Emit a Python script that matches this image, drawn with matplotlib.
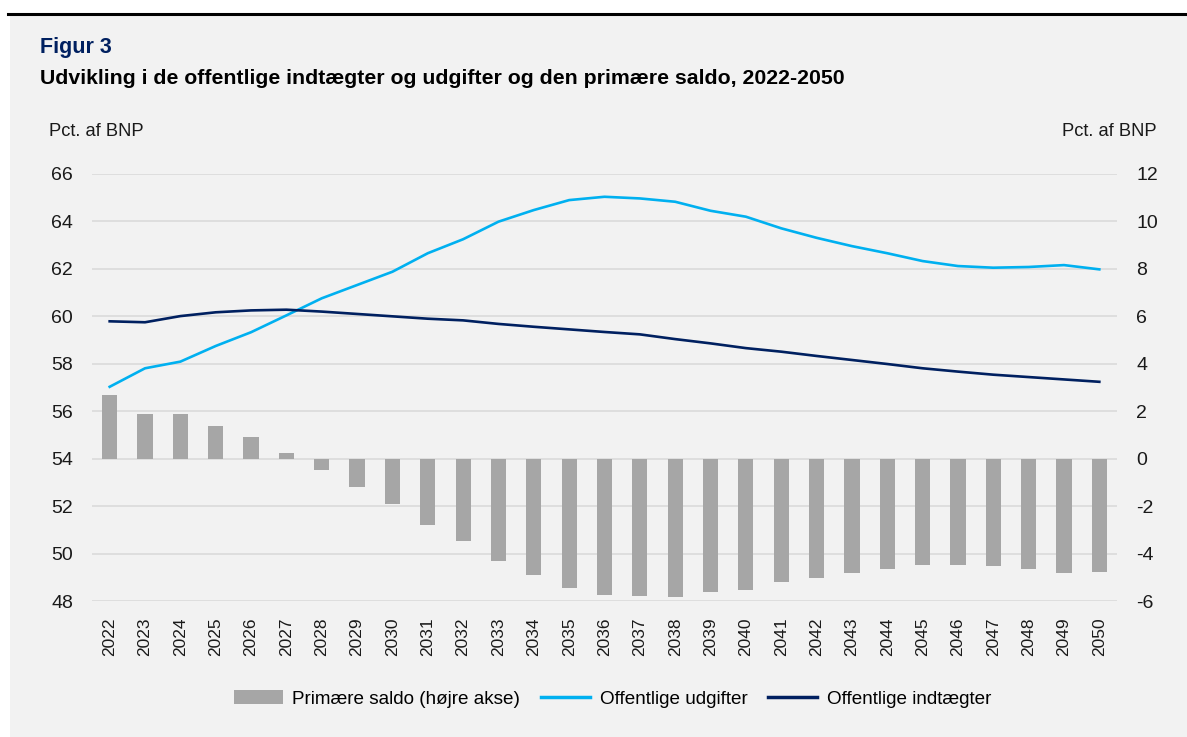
import matplotlib.pyplot as plt
from matplotlib.patches import Rectangle, Patch
from matplotlib.lines import Line2D

years = [str(y) for y in range(2022, 2051)]

# Primær saldo, pct. af BNP (højre akse)
saldo = [2.70, 1.90, 1.87, 1.36, 0.91, 0.25, -0.49, -1.19, -1.91, -2.78,
         -3.47, -4.30, -4.89, -5.44, -5.73, -5.79, -5.82, -5.61, -5.54, -5.21,
         -5.02, -4.82, -4.65, -4.50, -4.47, -4.52, -4.64, -4.82, -4.76]

# Offentlige udgifter, pct. af BNP
udgifter = [57.03, 57.81, 58.09, 58.75, 59.33, 60.04, 60.76, 61.32, 61.88, 62.66,
            63.25, 63.99, 64.48, 64.90, 65.04, 64.97, 64.83, 64.45, 64.20, 63.71,
            63.31, 62.96, 62.66, 62.33, 62.12, 62.05, 62.08, 62.16, 61.98]

# Offentlige indtægter, pct. af BNP
indtaegter = [59.79, 59.75, 60.01, 60.17, 60.25, 60.28, 60.20, 60.10, 60.00, 59.90,
              59.83, 59.68, 59.56, 59.45, 59.34, 59.24, 59.04, 58.86, 58.66, 58.51,
              58.33, 58.16, 57.99, 57.81, 57.67, 57.54, 57.44, 57.34, 57.24]

left_ticks = [48, 50, 52, 54, 56, 58, 60, 62, 64, 66]
right_ticks = [-6, -4, -2, 0, 2, 4, 6, 8, 10, 12]

BG = "#f2f2f2"
GRID = "#d9d9d9"
BAR = "#a6a6a6"
LIGHT = "#00b0f0"
NAVY = "#002060"

plt.rcParams["font.family"] = ["Liberation Sans", "DejaVu Sans"]


def main():
    fig = plt.figure(figsize=(11.87, 7.37), dpi=100, facecolor="white")
    W, H = 1187, 737

    # grey panel and the black rule on top
    fig.patches.append(Rectangle((10 / W, 0), 1, 1 - 15 / H, transform=fig.transFigure,
                                 facecolor=BG, edgecolor="none", zorder=-5))
    fig.add_artist(Line2D([8 / W, 1], [1 - 14 / H, 1 - 14 / H], color="black", lw=2.2))

    fig.text(40 / W, 1 - 47 / H, "Figur 3", color=NAVY, fontsize=15.5,
             fontweight="bold", va="center")
    fig.text(40 / W, 1 - 78 / H,
             "Udvikling i de offentlige indtægter og udgifter og den primære saldo, 2022-2050",
             color="black", fontsize=15.3, fontweight="bold", va="center")

    left, right = 92 / W, 1117 / W
    bottom, top = 1 - 601 / H, 1 - 174 / H
    ax2 = fig.add_axes([left, bottom, right - left, top - bottom])
    ax = ax2.twinx()
    ax2.yaxis.tick_right()
    ax.yaxis.tick_left()

    # bars on the right axis, drawn underneath
    ax2.bar(years, saldo, width=0.43, color=BAR, zorder=2)
    ax2.set_ylim(-6, 12)
    ax2.set_yticks(right_ticks)
    ax2.set_yticklabels([str(t) for t in right_ticks])
    ax2.grid(axis="y", color=GRID, lw=1.1)
    ax2.set_axisbelow(True)
    ax2.set_facecolor(BG)
    ax2.set_xlim(-0.5, len(years) - 0.5)

    # lines on the left axis, on top
    ax.plot(years, udgifter, color=LIGHT, lw=1.9, zorder=3)
    ax.plot(years, indtaegter, color=NAVY, lw=1.9, zorder=3)
    ax.set_ylim(48, 66)
    ax.set_yticks(left_ticks)
    ax.set_xlim(-0.5, len(years) - 0.5)

    for a in (ax, ax2):
        for s in a.spines.values():
            s.set_visible(False)
    ax.tick_params(axis="y", length=0, pad=13.7, labelsize=14, labelcolor="#1a1a1a")
    ax2.tick_params(axis="y", length=0, pad=13.7, labelsize=14, labelcolor="#1a1a1a")
    ax2.tick_params(axis="x", length=0, pad=12, labelsize=12.5, labelrotation=90,
                    labelcolor="#1a1a1a")

    fig.text(49 / W, 1 - 131 / H, "Pct. af BNP", fontsize=13.2, va="center", color="#1a1a1a")
    fig.text(1157 / W, 1 - 131 / H, "Pct. af BNP", fontsize=13.2, va="center", ha="right",
             color="#1a1a1a")

    handles = [Patch(facecolor=BAR, edgecolor="none"),
               Line2D([], [], color=LIGHT, lw=2.5),
               Line2D([], [], color=NAVY, lw=2.5)]
    labels = ["Primære saldo (højre akse)", "Offentlige udgifter", "Offentlige indtægter"]
    fig.legend(handles, labels, loc="center", bbox_to_anchor=(0.5 + 19 / W, 1 - 699 / H),
               ncol=3, frameon=False, handlelength=2.6, handletextpad=0.5,
               columnspacing=1.1, prop={"size": 13.6})

    fig.savefig("out.png", dpi=100, facecolor=fig.get_facecolor())


if __name__ == "__main__":
    main()
